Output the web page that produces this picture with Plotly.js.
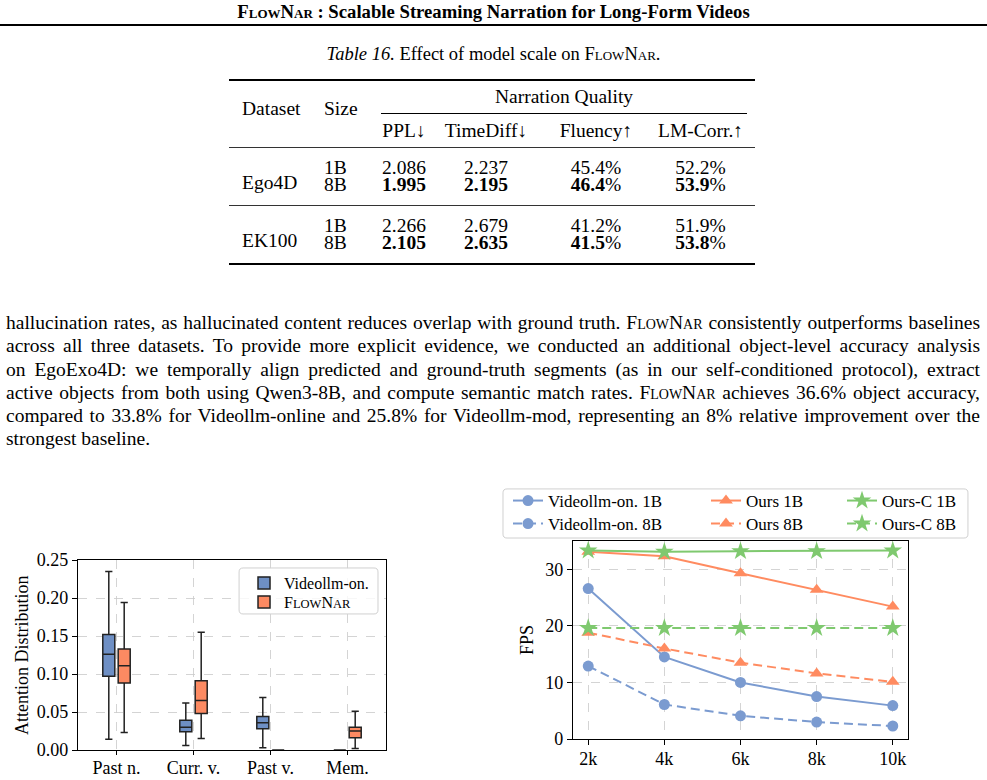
<!DOCTYPE html>
<html>
<head>
<meta charset="utf-8">
<script src="https://cdn.plot.ly/plotly-3.0.1.min.js"></script>
<style>
body { margin:0; width:987px; height:780px; overflow:hidden; position:relative; background:#fff; color:#000; font-family:'Liberation Serif', serif; }
.sc { font-variant: small-caps; }
#head { position:absolute; top:2px; left:0; width:987px; text-align:center; font-weight:bold; font-size:18.7px; line-height:20px; }
#rule { position:absolute; top:24px; left:0; width:987px; border-top:2px solid #000; }
#cap { position:absolute; top:44px; left:0; width:987px; text-align:center; font-size:18.5px; line-height:20px; }
#tbl { position:absolute; left:229px; top:79px; width:526px; table-layout:fixed; border-collapse:separate; border-spacing:0; font-size:19.5px; }
#tbl td { padding:0; text-align:center; white-space:nowrap; }
#tbl tr.r1 td { border-top:2px solid #000; }
#tbl td.nq div { height:32px; line-height:32px; margin:0 8px 0 9px; border-bottom:1px solid #000; }
#tbl td.hd { padding-bottom:10px; }
#tbl tr.r2 td { line-height:33px; }
#tbl tr.ga td { border-top:1.5px solid #333; padding-top:11px; line-height:17px; }
#tbl tr.gb td { padding-bottom:12px; line-height:17px; }
#tbl tr.last td, #tbl td.lastds { border-bottom:2px solid #000; }
#tbl td.ds { text-align:left; padding-left:13px; }
#tbl td.sz { text-align:left; padding-left:11px; }
#tbl td.lm { padding-right:10px; }
#para { position:absolute; left:6px; top:311px; width:974px; font-size:19.5px; line-height:23.3px; }
#para div { white-space:nowrap; }
#boxplot { position:absolute; left:0; top:540px; width:420px; height:240px; }
#fps { position:absolute; left:500px; top:480px; width:487px; height:300px; }
</style>
</head>
<body>
<div id="head"><span class="sc">FlowNar</span> : Scalable Streaming Narration for Long-Form Videos</div>
<div id="rule"></div>
<div id="cap"><i>Table 16.</i> Effect of model scale on <span class="sc">FlowNar</span>.</div>

<table id="tbl">
<colgroup><col style="width:84px"><col style="width:59px"><col style="width:64px"><col style="width:100px"><col style="width:120px"><col style="width:99px"></colgroup>
<tr class="r1">
  <td rowspan="2" class="ds hd">Dataset</td><td rowspan="2" class="sz hd">Size</td>
  <td colspan="4" class="nq"><div>Narration Quality</div></td>
</tr>
<tr class="r2"><td>PPL↓</td><td>TimeDiff↓</td><td>Fluency↑</td><td class="lm">LM-Corr.↑</td></tr>
<tr class="ga"><td rowspan="2" class="ds">Ego4D</td><td class="sz">1B</td><td>2.086</td><td>2.237</td><td>45.4%</td><td class="lm">52.2%</td></tr>
<tr class="gb"><td class="sz">8B</td><td><b>1.995</b></td><td><b>2.195</b></td><td><b>46.4</b>%</td><td class="lm"><b>53.9</b>%</td></tr>
<tr class="ga"><td rowspan="2" class="ds lastds">EK100</td><td class="sz">1B</td><td>2.266</td><td>2.679</td><td>41.2%</td><td class="lm">51.9%</td></tr>
<tr class="gb last"><td class="sz">8B</td><td><b>2.105</b></td><td><b>2.635</b></td><td><b>41.5</b>%</td><td class="lm"><b>53.8</b>%</td></tr>
</table>

<div id="para">
<div class="fit">hallucination rates, as hallucinated content reduces overlap with ground truth. <span class="sc">FlowNar</span> consistently outperforms baselines</div>
<div class="fit">across all three datasets. To provide more explicit evidence, we conducted an additional object-level accuracy analysis</div>
<div class="fit">on EgoExo4D: we temporally align predicted and ground-truth segments (as in our self-conditioned protocol), extract</div>
<div class="fit">active objects from both using Qwen3-8B, and compute semantic match rates. <span class="sc">FlowNar</span> achieves 36.6% object accuracy,</div>
<div class="fit">compared to 33.8% for Videollm-online and 25.8% for Videollm-mod, representing an 8% relative improvement over the</div>
<div>strongest baseline.</div>
</div>

<div id="boxplot"></div>
<div id="fps"></div>

<script>
// attention distribution box stats
var boxCats = ['Past n.', 'Curr. v.', 'Past v.', 'Mem.'];
var vidLow  = [0.014, 0.006, 0.003, 0];
var vidQ1   = [0.097, 0.024, 0.028, 0];
var vidMed  = [0.126, 0.030, 0.036, 0];
var vidQ3   = [0.152, 0.039, 0.044, 0];
var vidHigh = [0.235, 0.062, 0.069, 0];
var flowLow  = [0.023, 0.015, 0, 0.002];
var flowQ1   = [0.088, 0.048, 0, 0.016];
var flowMed  = [0.111, 0.065, 0, 0.025];
var flowQ3   = [0.133, 0.091, 0, 0.030];
var flowHigh = [0.194, 0.155, 0, 0.051];

// FPS vs context length
var ctxLen = [2, 4, 6, 8, 10];
var ctxLabels = ['2k', '4k', '6k', '8k', '10k'];
var vidOn1B = [26.6, 14.5, 10.0, 7.5, 5.9];
var vidOn8B = [12.9, 6.1, 4.1, 3.0, 2.3];
var ours1B = [33.1, 32.3, 29.3, 26.4, 23.4];
var ours8B = [18.8, 16.0, 13.5, 11.6, 10.1];
var oursC1B = [33.3, 33.1, 33.2, 33.2, 33.3];
var oursC8B = [19.6, 19.6, 19.6, 19.6, 19.6];

var serif = 'Liberation Serif, Times New Roman, serif';
var blue = '#7b9bd0', orange = '#ff8b60', green = '#7fc96f';

// justify the paragraph lines to the full column width
document.querySelectorAll('#para .fit').forEach(function (el) {
  el.style.display = 'inline-block';
  var w = el.getBoundingClientRect().width;
  el.style.display = 'block';
  var gaps = (el.textContent.match(/ /g) || []).length;
  el.style.wordSpacing = ((974 - w) / gaps) + 'px';
});

function roundBox(x0, y0, x1, y1, rx, ry) {
  return 'M' + (x0 + rx) + ',' + y0 + ' L' + (x1 - rx) + ',' + y0 +
    ' Q' + x1 + ',' + y0 + ' ' + x1 + ',' + (y0 + ry) +
    ' L' + x1 + ',' + (y1 - ry) + ' Q' + x1 + ',' + y1 + ' ' + (x1 - rx) + ',' + y1 +
    ' L' + (x0 + rx) + ',' + y1 + ' Q' + x0 + ',' + y1 + ' ' + x0 + ',' + (y1 - ry) +
    ' L' + x0 + ',' + (y0 + ry) + ' Q' + x0 + ',' + y0 + ' ' + (x0 + rx) + ',' + y0 + ' Z';
}

function axisBase() {
  return {
    showline: true, mirror: true, linecolor: '#000', linewidth: 1.2,
    ticks: 'outside', ticklen: 5, tickwidth: 1, tickcolor: '#000',
    showgrid: true, gridcolor: '#c9c9c9', gridwidth: 0.8, griddash: 'dash',
    zeroline: false, tickfont: {family: serif, size: 18, color: '#000'}
  };
}

function oneLegend(x, y, size) {
  return {x: x, y: y, xanchor: 'left', yanchor: 'middle', bgcolor: 'rgba(0,0,0,0)',
    borderwidth: 0, font: {family: serif, size: size, color: '#000'}};
}

// ---- box plot ----
var boxLine = {color: '#222', width: 1.5};
var boxData = [
  {type: 'box', name: 'Videollm-on.', x: boxCats, q1: vidQ1, median: vidMed, q3: vidQ3,
   lowerfence: vidLow, upperfence: vidHigh, fillcolor: '#6e8fc4', line: boxLine,
   whiskerwidth: 0.6, boxpoints: false, hoverinfo: 'skip', legend: 'legend'},
  {type: 'box', name: 'F<span style="font-size:12.5px">LOW</span>N<span style="font-size:12.5px">AR</span>',
   x: boxCats, q1: flowQ1, median: flowMed, q3: flowQ3,
   lowerfence: flowLow, upperfence: flowHigh, fillcolor: '#fc8a62', line: boxLine,
   whiskerwidth: 0.6, boxpoints: false, hoverinfo: 'skip', legend: 'legend2'}
];

var bx = axisBase();
bx.type = 'category';
bx.ticklen = 4;
bx.ticklabelstandoff = -3;
var by = axisBase();
by.range = [0, 0.25];
by.dtick = 0.05;
by.tickformat = '.2f';

var boxLayout = {
  width: 420, height: 240,
  margin: {l: 78, r: 34, t: 20, b: 30, autoexpand: false},
  paper_bgcolor: 'rgba(0,0,0,0)', plot_bgcolor: '#fff',
  font: {family: serif, size: 18, color: '#000'},
  boxmode: 'group', boxgap: 0.6, boxgroupgap: 0.22,
  xaxis: bx, yaxis: by,
  showlegend: true,
  legend: oneLegend(0.539, 0.879, 16),
  legend2: oneLegend(0.539, 0.779, 16),
  shapes: [{type: 'path', xref: 'paper', yref: 'paper', layer: 'above',
    path: roundBox(0.523, 0.716, 0.974, 0.958, 0.013, 0.021),
    fillcolor: 'rgba(255,255,255,0.8)', line: {color: '#d0d0d0', width: 1}}],
  annotations: [{text: 'Attention Distribution', xref: 'paper', yref: 'paper',
    x: -0.182, y: 0.5, textangle: -90, showarrow: false, xanchor: 'center', yanchor: 'middle',
    font: {family: serif, size: 18, color: '#000'}}]
};

Plotly.newPlot('boxplot', boxData, boxLayout, {displayModeBar: false, staticPlot: true});

// ---- FPS line chart ----
function fpsTrace(name, y, color, symbol, size, dash, legendId) {
  return {type: 'scatter', mode: 'lines+markers', name: name, x: ctxLen, y: y,
    line: {color: color, width: 2, dash: dash},
    marker: {color: color, symbol: symbol, size: size},
    hoverinfo: 'skip', legend: legendId};
}

var fpsData = [
  fpsTrace('Videollm-on. 1B', vidOn1B, blue, 'circle', 11, 'solid', 'legend'),
  fpsTrace('Videollm-on. 8B', vidOn8B, blue, 'circle', 11, '9px,5px', 'legend2'),
  fpsTrace('Ours 1B', ours1B, orange, 'triangle-up', 12, 'solid', 'legend3'),
  fpsTrace('Ours 8B', ours8B, orange, 'triangle-up', 12, '9px,5px', 'legend4'),
  fpsTrace('Ours-C 1B', oursC1B, green, 'star', 14, 'solid', 'legend5'),
  fpsTrace('Ours-C 8B', oursC8B, green, 'star', 14, '9px,5px', 'legend6')
];

var fx = axisBase();
fx.range = [1.6, 10.4];
fx.tickvals = ctxLen;
fx.ticktext = ctxLabels;
fx.ticklabelstandoff = -2;
var fy = axisBase();
fy.range = [0, 35];
fy.tickvals = [0, 10, 20, 30];

var fpsLayout = {
  width: 487, height: 300,
  margin: {l: 73, r: 79, t: 61, b: 41, autoexpand: false},
  paper_bgcolor: 'rgba(0,0,0,0)', plot_bgcolor: '#fff',
  font: {family: serif, size: 18, color: '#000'},
  xaxis: fx, yaxis: fy,
  showlegend: true,
  legend: oneLegend(-0.194, 1.202, 17),
  legend2: oneLegend(-0.194, 1.086, 17),
  legend3: oneLegend(0.397, 1.202, 17),
  legend4: oneLegend(0.397, 1.086, 17),
  legend5: oneLegend(0.803, 1.202, 17),
  legend6: oneLegend(0.803, 1.086, 17),
  shapes: [{type: 'path', xref: 'paper', yref: 'paper', layer: 'above',
    path: roundBox(-0.209, 1.015, 1.179, 1.263, 0.012, 0.02),
    fillcolor: 'rgba(255,255,255,0.8)', line: {color: '#d0d0d0', width: 1}}],
  annotations: [{text: 'FPS', xref: 'paper', yref: 'paper',
    x: -0.137, y: 0.5, textangle: -90, showarrow: false, xanchor: 'center', yanchor: 'middle',
    font: {family: serif, size: 18, color: '#000'}}]
};

Plotly.newPlot('fps', fpsData, fpsLayout, {displayModeBar: false, staticPlot: true});
</script>
</body>
</html>
